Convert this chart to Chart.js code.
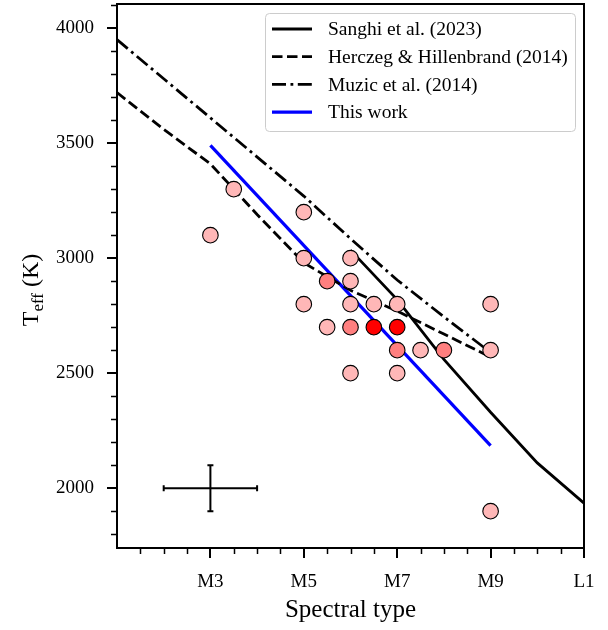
<!DOCTYPE html>
<html>
<head>
<meta charset="utf-8">
<script src="https://cdn.jsdelivr.net/npm/chart.js@4"></script>
<style>
  html, body { margin: 0; padding: 0; background: #fff; }
  #wrap { width: 608px; height: 630px; }
</style>
</head>
<body>
<div id="wrap"><canvas id="grafico"></canvas></div>
<script>
// Datos (tipo espectral: M0 = 0, L0 = 10, L1 = 11)
const sanghiSpT = [6, 7, 8, 9, 10, 11];
const sanghiTeff = [3035, 2820, 2560, 2330, 2110, 1935];

const hhSpT = [1, 2, 3, 4, 5, 6, 7, 8, 9];
const hhTeff = [3720, 3560, 3410, 3190, 2980, 2860, 2770, 2670, 2570];

const muzicSpT = [1, 5, 6, 7, 8, 9];
const muzicTeff = [3950, 3270, 3085, 2905, 2745, 2590];

const thisWorkSpT = [3, 9];
const thisWorkTeff = [3490, 2185];

// Estrellas individuales; ptN = numero de fuentes superpuestas (intensidad del color)
const ptSpT = [3, 3.5, 5, 5, 5, 5.5, 5.5, 6, 6, 6, 6, 6, 6.5, 6.5, 7, 7, 7, 7, 7.5, 8, 9, 9, 9];
const ptTeff = [3100, 3300, 3200, 3000, 2800, 2900, 2700, 3000, 2900, 2800, 2700, 2500, 2800, 2700, 2800, 2700, 2600, 2500, 2600, 2600, 2800, 2600, 1900];
const ptN = [1, 1, 1, 1, 1, 2, 1, 1, 1, 1, 2, 1, 1, 3, 1, 3, 2, 1, 1, 2, 1, 1, 1];

// Barra de error tipica
const errSpT = [3];
const errTeff = [2000];
const errSpTSize = [1];
const errTeffSize = [100];

const xTickVals = [3, 5, 7, 9, 11];
const xTickLabels = ['M3', 'M5', 'M7', 'M9', 'L1'];
const yTickVals = [2000, 2500, 3000, 3500, 4000];

const FONT = "'Liberation Serif', 'Times New Roman', serif";
Chart.defaults.font.family = FONT;
Chart.defaults.color = '#000';

const toXY = (xs, ys) => xs.map((x, i) => ({ x: x, y: ys[i] }));
const shade = { 1: '#ffb7b7', 2: '#ff7f7f', 3: '#ff0000' };

// Plugin para marco, ticks menores, leyenda, titulo Y y barra de error
const decoracion = {
    id: 'decoracion',
    afterDatasetsDraw(chart) {
        const ctx = chart.ctx;
        const xs = chart.scales.x, ys = chart.scales.y;
        ctx.save();

        // barra de error
        ctx.strokeStyle = '#000';
        ctx.lineWidth = 2;
        errSpT.forEach((v, i) => {
            const cx = xs.getPixelForValue(v), cy = ys.getPixelForValue(errTeff[i]);
            const x0 = xs.getPixelForValue(v - errSpTSize[i]), x1 = xs.getPixelForValue(v + errSpTSize[i]);
            const y0 = ys.getPixelForValue(errTeff[i] - errTeffSize[i]), y1 = ys.getPixelForValue(errTeff[i] + errTeffSize[i]);
            ctx.beginPath();
            ctx.moveTo(x0, cy); ctx.lineTo(x1, cy);
            ctx.moveTo(cx, y0); ctx.lineTo(cx, y1);
            ctx.moveTo(x0, cy - 3); ctx.lineTo(x0, cy + 3);
            ctx.moveTo(x1, cy - 3); ctx.lineTo(x1, cy + 3);
            ctx.moveTo(cx - 3, y0); ctx.lineTo(cx + 3, y0);
            ctx.moveTo(cx - 3, y1); ctx.lineTo(cx + 3, y1);
            ctx.stroke();
        });
        ctx.restore();
    },
    afterDraw(chart) {
        const ctx = chart.ctx;
        const ca = chart.chartArea;
        const xs = chart.scales.x, ys = chart.scales.y;
        ctx.save();

        // marco
        ctx.strokeStyle = '#000';
        ctx.lineWidth = 2;
        ctx.strokeRect(ca.left, ca.top, ca.right - ca.left, ca.bottom - ca.top);

        // ticks menores
        ctx.lineWidth = 1.5;
        ctx.beginPath();
        for (let v = 1.5; v < 11; v += 0.5) {
            if (xTickVals.includes(v)) continue;
            const px = Math.round(xs.getPixelForValue(v)) + 0.5;
            ctx.moveTo(px, ca.bottom); ctx.lineTo(px, ca.bottom + 6);
        }
        for (let v = 1800; v <= 4100; v += 100) {
            if (yTickVals.includes(v)) continue;
            const py = Math.round(ys.getPixelForValue(v)) + 0.5;
            ctx.moveTo(ca.left, py); ctx.lineTo(ca.left - 6, py);
        }
        ctx.stroke();

        // titulo del eje Y con subindice
        ctx.fillStyle = '#000';
        ctx.textBaseline = 'alphabetic';
        ctx.font = '24px ' + FONT;
        const wT = ctx.measureText('T').width;
        const wK = ctx.measureText(' (K)').width;
        ctx.font = '17px ' + FONT;
        const wSub = ctx.measureText('eff').width;
        const total = wT + wSub + wK;
        ctx.translate(38, 290);
        ctx.rotate(-Math.PI / 2);
        let tx = -total / 2;
        ctx.font = '24px ' + FONT;
        ctx.fillText('T', tx, 0); tx += wT;
        ctx.font = '17px ' + FONT;
        ctx.fillText('eff', tx, 5); tx += wSub;
        ctx.font = '24px ' + FONT;
        ctx.fillText(' (K)', tx, 0);
        ctx.setTransform(1, 0, 0, 1, 0, 0);

        // leyenda
        const lx = ca.right - 319, ly = ca.top + 9, lw = 310, lh = 118;
        ctx.beginPath();
        ctx.roundRect(lx + 0.5, ly + 0.5, lw, lh, 4);
        ctx.fillStyle = 'rgba(255,255,255,0.8)';
        ctx.fill();
        ctx.strokeStyle = '#cccccc';
        ctx.lineWidth = 1;
        ctx.stroke();
        const items = chart.data.datasets.filter(d => d.showLine);
        ctx.font = '19.5px ' + FONT;
        ctx.textBaseline = 'middle';
        items.forEach((d, i) => {
            const yy = ly + 16 + i * 27.7;
            ctx.strokeStyle = d.borderColor;
            ctx.lineWidth = d.borderWidth;
            ctx.setLineDash(d.borderDash || []);
            ctx.beginPath();
            ctx.moveTo(lx + 7, yy); ctx.lineTo(lx + 47, yy);
            ctx.stroke();
            ctx.setLineDash([]);
            ctx.fillStyle = '#000';
            ctx.fillText(d.label, lx + 63, yy + 1);
        });
        ctx.restore();
    }
};

new Chart(document.getElementById('grafico'), {
    type: 'scatter',
    data: {
        datasets: [
            {
                label: 'Estrellas',
                data: toXY(ptSpT, ptTeff),
                showLine: false,
                pointRadius: 7.8,
                pointHoverRadius: 7.8,
                pointBorderWidth: 1.1,
                pointBorderColor: '#000',
                pointBackgroundColor: ctx => shade[ptN[ctx.dataIndex]],
                order: 0
            },
            {
                label: 'Sanghi et al. (2023)',
                data: toXY(sanghiSpT, sanghiTeff),
                showLine: true,
                borderColor: '#000',
                borderWidth: 2.8,
                pointRadius: 0,
                order: 1
            },
            {
                label: 'Herczeg & Hillenbrand (2014)',
                data: toXY(hhSpT, hhTeff),
                showLine: true,
                borderColor: '#000',
                borderWidth: 2.8,
                borderDash: [10.5, 4.5],
                pointRadius: 0,
                order: 2
            },
            {
                label: 'Muzic et al. (2014)',
                data: toXY(muzicSpT, muzicTeff),
                showLine: true,
                borderColor: '#000',
                borderWidth: 2.8,
                borderDash: [14, 4.5, 2.8, 4.5],
                pointRadius: 0,
                order: 3
            },
            {
                label: 'This work',
                data: toXY(thisWorkSpT, thisWorkTeff),
                showLine: true,
                borderColor: '#0000ff',
                borderWidth: 3.2,
                pointRadius: 0,
                order: 4
            }
        ]
    },
    options: {
        responsive: true,
        maintainAspectRatio: false,
        animation: false,
        layout: { autoPadding: false, padding: { left: 0, top: 4, right: 24, bottom: 0 } },
        plugins: {
            legend: { display: false },
            tooltip: { enabled: false }
        },
        scales: {
            x: {
                type: 'linear',
                min: 1,
                max: 11,
                afterBuildTicks: s => { s.ticks = xTickVals.map(v => ({ value: v })); },
                afterFit: s => { s.height = 82; s.paddingLeft = 0; s.paddingRight = 0; },
                ticks: {
                    autoSkip: false,
                    maxRotation: 0,
                    padding: 13,
                    font: { size: 19 },
                    callback: v => xTickLabels[xTickVals.indexOf(v)]
                },
                grid: { display: true, drawOnChartArea: false, drawTicks: true, tickLength: 10, lineWidth: 2, color: '#000' },
                border: { display: false },
                title: {
                    display: true,
                    text: 'Spectral type',
                    font: { size: 25 },
                    padding: { top: 0, bottom: 5 }
                }
            },
            y: {
                type: 'linear',
                min: 1740,
                max: 4105,
                afterBuildTicks: s => { s.ticks = yTickVals.map(v => ({ value: v })); },
                afterFit: s => { s.width = 117; s.paddingTop = 0; s.paddingBottom = 0; },
                ticks: {
                    autoSkip: false,
                    padding: 13,
                    font: { size: 19 },
                    callback: v => String(v)
                },
                grid: { display: true, drawOnChartArea: false, drawTicks: true, tickLength: 10, lineWidth: 2, color: '#000' },
                border: { display: false }
            }
        }
    },
    plugins: [decoracion]
});
</script>
</body>
</html>
